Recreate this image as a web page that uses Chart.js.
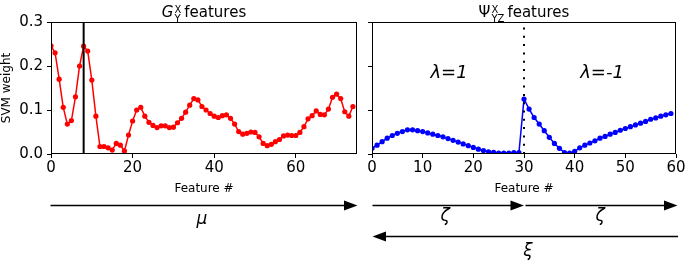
<!DOCTYPE html>
<html>
<head>
<meta charset="utf-8">
<script src="https://cdn.jsdelivr.net/npm/chart.js@4/dist/chart.umd.min.js"></script>
<style>
  html, body { margin: 0; padding: 0; background: #fff; }
  #wrap { position: relative; width: 687px; height: 264px; overflow: hidden; background: #fff; font-family: 'DejaVu Sans', sans-serif; }
  canvas { position: absolute; top: 0; }
  .title { position: absolute; top: 3px; font-size: 15px; color: #000; white-space: nowrap; transform: translateX(-50%); line-height: 18px; }
  .ss { display: inline-block; vertical-align: -5px; font-size: 10px; line-height: 9px; text-align: left; margin-left: 1px; margin-right: 3px; }
  .ss span { display: block; }
  svg { position: absolute; left: 0; top: 0; }
</style>
</head>
<body>
<div id="wrap">
  <canvas id="left" width="365" height="200" style="left:0;width:365px;height:200px"></canvas>
  <canvas id="right" width="322" height="200" style="left:365px;width:322px;height:200px"></canvas>
  <div class="title" style="left:204px"><i>G</i><span class="ss"><span>X</span><span>Y</span></span>features</div>
  <div class="title" style="left:524px">Ψ<span class="ss"><span>X</span><span>YZ</span></span>features</div>
  <svg width="687" height="264">
    <g stroke="#000" stroke-width="1.4" fill="none">
      <line x1="50.5" y1="205.5" x2="345" y2="205.5"/>
      <line x1="372.5" y1="205.5" x2="511" y2="205.5"/>
      <line x1="525.5" y1="205.5" x2="665" y2="205.5"/>
      <line x1="385" y1="236.5" x2="678" y2="236.5"/>
    </g>
    <g fill="#000" stroke="none">
      <polygon points="357.5,205.5 344,200.5 344,210.5"/>
      <polygon points="524,205.5 510.5,200.5 510.5,210.5"/>
      <polygon points="677.5,205.5 664,200.5 664,210.5"/>
      <polygon points="372.5,236.5 386,231.5 386,241.5"/>
    </g>
    <g font-family="DejaVu Sans" font-style="italic" font-size="17" text-anchor="middle" fill="#000">
      <text x="202" y="224">μ</text>
      <text x="445" y="221">ζ</text>
      <text x="600" y="221">ζ</text>
      <text x="528" y="256">ξ</text>
    </g>
  </svg>
</div>
<script>
// ---- data ----
const leftValues = [0.246,0.230,0.170,0.106,0.068,0.076,0.130,0.200,0.245,0.234,
  0.168,0.086,0.017,0.017,0.014,0.009,0.024,0.020,0.007,0.043,
  0.075,0.100,0.106,0.086,0.072,0.065,0.060,0.064,0.064,0.060,
  0.061,0.071,0.081,0.095,0.111,0.126,0.123,0.108,0.100,0.092,
  0.086,0.083,0.087,0.089,0.081,0.068,0.051,0.045,0.047,0.050,
  0.049,0.039,0.024,0.019,0.022,0.028,0.033,0.041,0.043,0.042,
  0.042,0.049,0.062,0.080,0.087,0.098,0.090,0.089,0.102,0.129,
  0.136,0.126,0.096,0.086,0.108];
const rightValues = [0.013,0.020,0.028,0.036,0.042,0.047,0.051,0.055,0.055,0.053,
  0.051,0.048,0.045,0.042,0.039,0.035,0.031,0.027,0.023,0.019,
  0.015,0.011,0.008,0.005,0.004,0.002,0.002,0.002,0.003,0.003,
  0.125,0.102,0.083,0.068,0.053,0.038,0.024,0.013,0.003,0.002,
  0.006,0.014,0.020,0.025,0.030,0.036,0.040,0.045,0.049,0.054,
  0.058,0.062,0.066,0.070,0.074,0.079,0.082,0.086,0.089,0.092];
const leftMarkerX = 8;
const rightMarkerX = 30;
const yTicks = [0, 0.1, 0.2, 0.3];
const leftXTicks = [0, 20, 40, 60];
const rightXTicks = [0, 10, 20, 30, 40, 50, 60];
const regionLabels = [{x: 15.2, y: 0.1727, text: 'λ=1'}, {x: 45.4, y: 0.1727, text: 'λ=-1'}];

Chart.defaults.font.family = "'DejaVu Sans', sans-serif";
Chart.defaults.color = '#000';

const frame = {
  id: 'frame',
  afterDatasetsDraw(chart) {
    const a = chart.chartArea, c = chart.ctx;
    c.save();
    c.strokeStyle = '#000'; c.lineWidth = 1;
    const l = Math.round(a.left) + 0.5, t = Math.round(a.top) + 0.5;
    const r = Math.round(a.right) - 0.5, b = Math.round(a.bottom) - 0.5;
    c.strokeRect(l, t, r - l, b - t);
    c.restore();
  }
};
const labelsPlugin = {
  id: 'regionText',
  afterDatasetsDraw(chart, args, opts) {
    if (!opts.items) return;
    const c = chart.ctx, xs = chart.scales.x, ys = chart.scales.y;
    c.save();
    c.font = 'italic 18px "DejaVu Sans"';
    c.fillStyle = '#000'; c.textAlign = 'center'; c.textBaseline = 'alphabetic';
    opts.items.forEach(it => c.fillText(it.text, xs.getPixelForValue(it.x), ys.getPixelForValue(it.y)));
    c.restore();
  }
};

function makeChart(id, values, color, marker, dash, xMax, xTicks, yWidth, padRight, showYLabels, items) {
  const pts = values.map((v, i) => ({x: i, y: v}));
  return new Chart(document.getElementById(id), {
    type: 'scatter',
    data: { datasets: [
      { data: [{x: marker, y: 0}, {x: marker, y: 0.3}], showLine: true, borderColor: '#000',
        borderWidth: dash ? 2 : 2, borderDash: dash || [], pointRadius: 0, order: 0 },
      { data: pts, showLine: true, borderColor: color, backgroundColor: color, borderWidth: 1.5,
        pointRadius: 2.6, pointBorderWidth: 0, pointHoverRadius: 2.6, order: 1 }
    ]},
    options: {
      responsive: false, animation: false, devicePixelRatio: 1,
      layout: { padding: { left: 0, right: padRight, top: 22, bottom: 0 } },
      plugins: { legend: { display: false }, tooltip: { enabled: false }, regionText: { items: items } },
      scales: {
        x: {
          type: 'linear', min: 0, max: xMax,
          afterBuildTicks: s => { s.ticks = xTicks.map(v => ({value: v})); },
          afterFit: s => { s.height = 46; },
          ticks: { font: { size: 15 }, padding: 1, maxRotation: 0, autoSkip: false, callback: v => String(v) },
          grid: { drawOnChartArea: false, drawTicks: true, tickLength: 4, color: '#000', lineWidth: 1 },
          border: { display: false },
          title: { display: true, text: 'Feature #', font: { size: 12 }, padding: { top: 0, bottom: 4 } }
        },
        y: {
          min: 0, max: 0.3,
          afterBuildTicks: s => { s.ticks = yTicks.map(v => ({value: v})); },
          afterFit: s => { s.width = yWidth; },
          ticks: { font: { size: 15 }, padding: 4, callback: v => showYLabels ? v.toFixed(1) : '' },
          grid: { drawOnChartArea: false, drawTicks: true, tickLength: 4, color: '#000', lineWidth: 1 },
          border: { display: false },
          title: { display: showYLabels, text: 'SVM weight', font: { size: 12 }, padding: { top: 0, bottom: 0 } }
        }
      }
    },
    plugins: [frame, labelsPlugin]
  });
}

makeChart('left', leftValues, '#ff0000', leftMarkerX, null, 75, leftXTicks, 51, 8, true, null);
makeChart('right', rightValues, '#0000ff', rightMarkerX, [2, 6.3], 60, rightXTicks, 7, 11, false, regionLabels);
</script>
</body>
</html>
